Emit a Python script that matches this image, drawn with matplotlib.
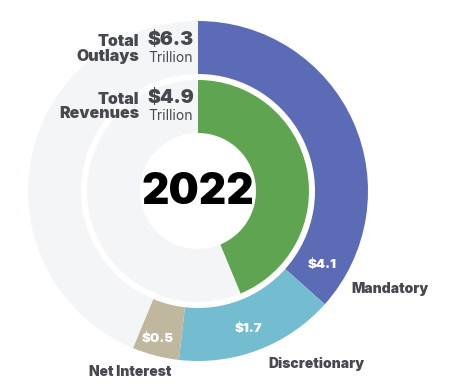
import matplotlib
matplotlib.use("Agg")
import matplotlib.pyplot as plt

# ---- data ----
year = "2022"
outlay_categories = ["Mandatory", "Discretionary", "Net Interest"]
outlay_values = [4.1, 1.7, 0.5]          # trillions
outlay_total = 6.3
revenue_total = 4.9
circle_scale = 11.2                       # trillions represented by a full ring

outlay_colors = ["#5b6bb5", "#74bccf", "#bfb79e"]
revenue_color = "#5fa551"
track_color = "#f4f5f7"
text_color = "#48494f"

W, H = 461, 390
fig = plt.figure(figsize=(W / 100, H / 100), dpi=100)
ax = fig.add_axes([0, 0, 1, 1])

cx, cy = 198, H - 191
R_out, w = 170, 53
R_in = 111

font = "Inter"

# outer ring: outlays
ax.pie(outlay_values + [circle_scale - sum(outlay_values)],
       colors=outlay_colors + [track_color],
       startangle=90, counterclock=False, center=(cx, cy), radius=R_out,
       wedgeprops=dict(width=w, linewidth=0, antialiased=True))
# inner ring: revenues
ax.pie([revenue_total, circle_scale - revenue_total],
       colors=[revenue_color, track_color],
       startangle=90, counterclock=False, center=(cx, cy), radius=R_in,
       wedgeprops=dict(width=w, linewidth=0, antialiased=True))
ax.set_xlim(0, W)
ax.set_ylim(0, H)
ax.set_aspect("equal")
ax.axis("off")

def T(x, y, s, **kw):
    ax.text(x, H - y, s, family=font, **kw)

# centre year
T(cx, 192, year, fontsize=30.5, fontweight=900, color="black",
  ha="center", va="center")

# totals
T(139, 41, "Total", fontsize=11.5, fontweight=900, color=text_color, ha="right", va="center")
T(139, 56, "Outlays", fontsize=11.5, fontweight=900, color=text_color, ha="right", va="center")
T(147, 40, f"${outlay_total}", fontsize=14, fontweight=900, color=text_color, ha="left", va="center")
T(148, 58, "Trillion", fontsize=10, fontweight=400, color=text_color, ha="left", va="center")

T(139, 99, "Total", fontsize=11.5, fontweight=900, color=text_color, ha="right", va="center")
T(139, 114, "Revenues", fontsize=11.5, fontweight=900, color=text_color, ha="right", va="center")
T(147, 98, f"${revenue_total}", fontsize=14, fontweight=900, color=text_color, ha="left", va="center")
T(148, 116, "Trillion", fontsize=10, fontweight=400, color=text_color, ha="left", va="center")

# value labels in ring
value_pos = [(322, 265), (248, 329), (158, 339)]
for (x, y), v in zip(value_pos, outlay_values):
    T(x, y, f"${v}", fontsize=9.5, fontweight=900, color="white", ha="center", va="center")

# category labels
cat_pos = [(390, 289), (316, 364), (130, 372)]
for (x, y), c in zip(cat_pos, outlay_categories):
    T(x, y, c, fontsize=10, fontweight=900, color=text_color, ha="center", va="center")

fig.savefig("out.png", dpi=100)
